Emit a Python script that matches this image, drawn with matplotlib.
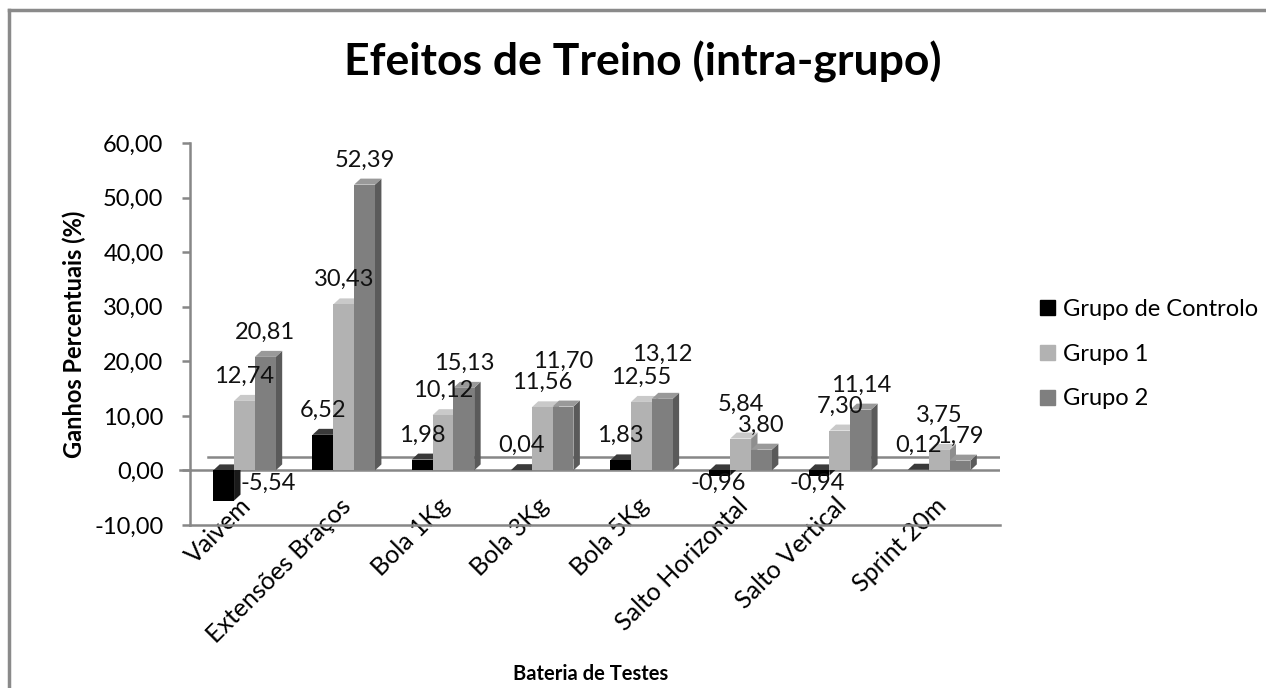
import matplotlib.pyplot as plt
import matplotlib.transforms as mtransforms
from matplotlib.patches import Polygon
from matplotlib.lines import Line2D
import numpy as np

plt.rcParams['font.family'] = ['Lato', 'DejaVu Sans']

categories = ['Vaivem', 'Extensões Braços', 'Bola 1Kg', 'Bola 3Kg', 'Bola 5Kg',
              'Salto Horizontal', 'Salto Vertical', 'Sprint 20m']
series_names = ['Grupo de Controlo', 'Grupo 1', 'Grupo 2']
controlo = [-5.54, 6.52, 1.98, 0.04, 1.83, -0.96, -0.94, 0.12]
grupo1 = [12.74, 30.43, 10.12, 11.56, 12.55, 5.84, 7.30, 3.75]
grupo2 = [20.81, 52.39, 15.13, 11.70, 13.12, 3.80, 11.14, 1.79]

# front, top, side colours for each series
front_cols = ['#000000', '#b2b2b2', '#7f7f7f']
top_cols = ['#3a3a3a', '#c9c9c9', '#999999']
side_cols = ['#1a1a1a', '#8e8e8e', '#5a5a5a']

fig = plt.figure(figsize=(12.66, 6.88), dpi=100)
ax = fig.add_axes([0.150, 0.237, 0.64, 0.555])

x = np.arange(len(categories))
w = 0.21
dx = 0.065   # depth in x (data units)
dy = 1.1     # depth in y (data units)
axis_col = '#878787'
lab_fs = 17
x_max = 7.665

# floor back edge
ax.plot([-0.32, x_max], [2.5, 2.5], color=axis_col, lw=1.8, zorder=1)

all_series = [controlo, grupo1, grupo2]
for s, vals in enumerate(all_series):
    xs = x + (s - 1) * w + 0.05
    for i, (xi, v) in enumerate(zip(xs, vals)):
        left, right = xi - w / 2, xi + w / 2
        top = max(v, 0)
        bot = min(v, 0)
        z = 3 + s
        # side face
        ax.add_patch(Polygon([(right, bot), (right + dx, bot + dy), (right + dx, top + dy), (right, top)],
                             closed=True, facecolor=side_cols[s], edgecolor='none', zorder=z))
        # top face
        ax.add_patch(Polygon([(left, top), (left + dx, top + dy), (right + dx, top + dy), (right, top)],
                             closed=True, facecolor=top_cols[s], edgecolor='none', zorder=z))
        ax.bar(xi, v, width=w, color=front_cols[s], edgecolor='none', zorder=z + 0.5)
        label = f'{v:.2f}'.replace('.', ',')
        if v >= 0:
            off = 2.6
            # lift the higher of Grupo 1 / Grupo 2 labels when they are close
            if s in (1, 2):
                other = grupo2[i] if s == 1 else grupo1[i]
                diff = abs(v - other)
                if v > other:
                    off += min(3.7, max(0.0, (3.0 - diff) * 1.8))
            ax.text(xi, top + off, label, ha='center', va='bottom', fontsize=lab_fs, color='#111111', zorder=10)
        elif v < -3:
            ax.text(right + dx, -2.4, label, ha='left', va='center', fontsize=lab_fs, color='#111111', zorder=10)
        else:
            ax.text(xi - 0.02, -2.4, label, ha='center', va='center', fontsize=lab_fs, color='#111111', zorder=10)

ax.set_xlim(-0.5, x_max)
ax.set_ylim(-10, 60)
ax.set_yticks(np.arange(-10, 61, 10))
ax.set_yticklabels([f'{t:.2f}'.replace('.', ',') for t in np.arange(-10, 61, 10)], fontsize=17)
ax.set_xticks(x + 0.05)
ax.set_xticklabels(categories, rotation=45, ha='right', va='top', rotation_mode='anchor', fontsize=18)
ax.tick_params(axis='x', length=0, pad=0)
ax.tick_params(axis='y', length=6, width=1.8, color=axis_col, direction='out', pad=13)
shift = mtransforms.ScaledTranslation(-5 / 100, 31 / 100, fig.dpi_scale_trans)
for lab in ax.get_xticklabels():
    lab.set_transform(lab.get_transform() + shift)

for sp in ['top', 'right']:
    ax.spines[sp].set_visible(False)
for sp in ['left', 'bottom']:
    ax.spines[sp].set_color(axis_col)
    ax.spines[sp].set_linewidth(1.8)
ax.axhline(0, color=axis_col, lw=1.8, zorder=2)
ax.plot([-0.6, -0.5], [0, 0], color=axis_col, lw=1.8, clip_on=False)

ax.set_ylabel('Ganhos Percentuais (%)', fontsize=17, fontweight='bold')
ax.yaxis.set_label_coords(-0.128, 0.5)
ax.set_xlabel('Bateria de Testes', fontsize=14.5, fontweight='bold')
ax.xaxis.set_label_coords(0.495, -0.365)

fig.suptitle('Efeitos de Treino (intra-grupo)', fontsize=32, fontweight='bold', x=0.508, y=0.94)

handles = [plt.Rectangle((0, 0), 1, 1, color=c) for c in front_cols]
fig.legend(handles, series_names, loc='center left', bbox_to_anchor=(0.805, 0.485), frameon=False,
           fontsize=17, handlelength=0.6, handleheight=0.6, handletextpad=0.35, labelspacing=1.0)

# chart border (left and top edges visible)
fig.add_artist(Line2D([0.0075, 0.0075], [0, 0.985], transform=fig.transFigure, color='#8a8a8a', lw=2.5))
fig.add_artist(Line2D([0.0075, 1.0], [0.985, 0.985], transform=fig.transFigure, color='#8a8a8a', lw=2.5))

fig.savefig('out.png', dpi=100, facecolor='white')
